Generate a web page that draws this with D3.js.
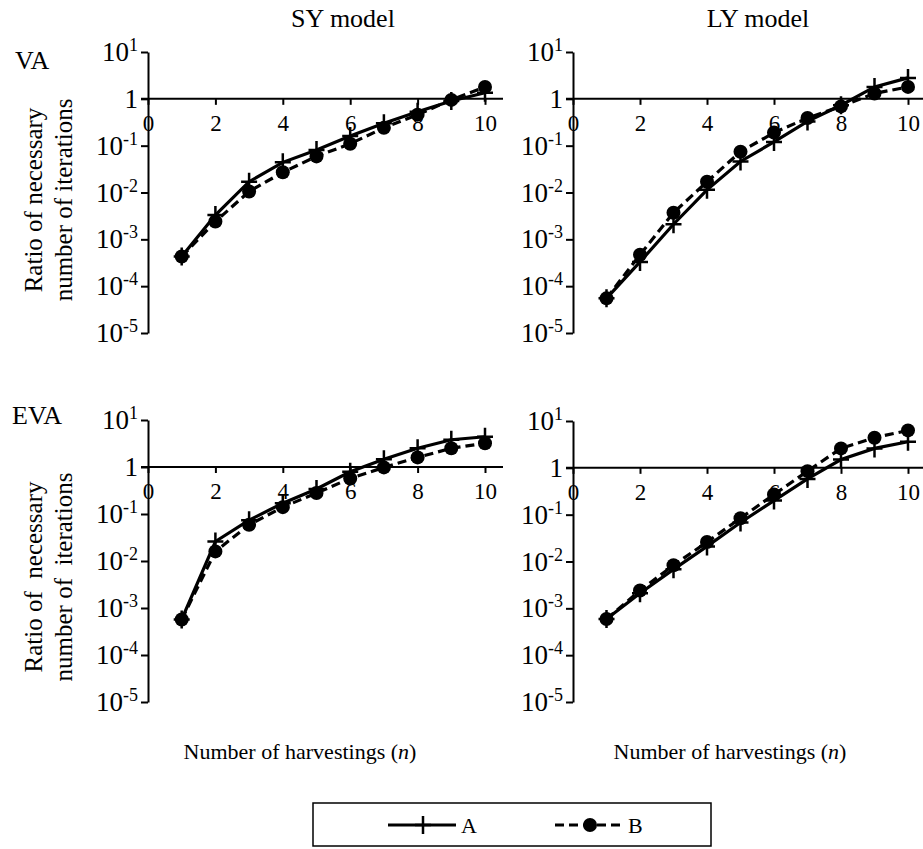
<!DOCTYPE html>
<html>
<head>
<meta charset="utf-8">
<script src="https://cdn.jsdelivr.net/npm/d3@7"></script>
<style>
  body { margin: 0; background: #fff; }
  svg text { font-family: "Liberation Serif", "DejaVu Serif", serif; }
</style>
</head>
<body>
<div class="chart"></div>
<script>
// data
const harvestings = [1, 2, 3, 4, 5, 6, 7, 8, 9, 10];
const xTicks = [0, 2, 4, 6, 8, 10];
const yTickExps = [1, 0, -1, -2, -3, -4, -5];
const models = ['SY model', 'LY model'];
const methods = ['VA', 'EVA'];
const seriesNames = ['A', 'B'];

const syVA_A = [4.3e-4, 3.3e-3, 0.017, 0.044, 0.081, 0.16, 0.30, 0.53, 0.90, 1.35];
const syVA_B = [4.3e-4, 2.4e-3, 0.0105, 0.027, 0.059, 0.11, 0.24, 0.46, 0.95, 1.8];
const lyVA_A = [5.5e-5, 3.3e-4, 2.1e-3, 0.0114, 0.046, 0.12, 0.33, 0.73, 1.8, 2.8];
const lyVA_B = [5.5e-5, 4.7e-4, 3.7e-3, 0.017, 0.074, 0.19, 0.39, 0.69, 1.3, 1.8];
const syEVA_A = [5.7e-4, 0.026, 0.074, 0.17, 0.34, 0.79, 1.46, 2.5, 3.8, 4.4];
const syEVA_B = [5.7e-4, 0.016, 0.059, 0.14, 0.28, 0.57, 0.98, 1.6, 2.5, 3.2];
const lyEVA_A = [5.9e-4, 2.1e-3, 6.8e-3, 0.021, 0.068, 0.20, 0.58, 1.5, 2.6, 3.6];
const lyEVA_B = [5.9e-4, 2.4e-3, 8.3e-3, 0.026, 0.084, 0.27, 0.85, 2.6, 4.4, 6.3];

const width = 923;
const height = 849;
const serif = '"Liberation Serif", "DejaVu Serif", serif';

const svg = d3.select('.chart')
  .append('svg')
    .attr('width', width)
    .attr('height', height)
    .attr('font-family', serif);

// panel layout: plot origin and extents
const panels = [
  { a: syVA_A,  b: syVA_B,  left: 148, right: 485, lineEnd: 503, top: 52,  bottom: 333 },
  { a: lyVA_A,  b: lyVA_B,  left: 573, right: 908, lineEnd: 923, top: 52,  bottom: 333 },
  { a: syEVA_A, b: syEVA_B, left: 148, right: 485, lineEnd: 503, top: 420, bottom: 702 },
  { a: lyEVA_A, b: lyEVA_B, left: 573, right: 908, lineEnd: 923, top: 421, bottom: 702 }
];

const plus = 'M-8,0H8M0,-9V9';

function drawPanel(p) {
  const x = d3.scaleLinear().domain([0, 10]).range([p.left, p.right]);
  const y = d3.scaleLog().domain([1e-5, 1e1]).range([p.bottom, p.top]);
  const g = svg.append('g');

  // y axis
  const yAxis = d3.axisLeft(y)
    .tickValues(yTickExps.map(e => Math.pow(10, e)))
    .tickSize(7)
    .tickSizeOuter(0)
    .tickFormat('');
  const ya = g.append('g')
    .attr('transform', `translate(${p.left},0)`)
    .call(yAxis);
  ya.selectAll('path, line').attr('stroke', '#000').attr('stroke-width', 2);

  // y tick labels with superscripts
  const labels = g.selectAll('.ylab')
    .data(yTickExps)
    .enter()
    .append('text')
      .attr('class', 'ylab')
      .attr('x', p.left - 10)
      .attr('y', d => y(Math.pow(10, d)) + 9)
      .attr('text-anchor', 'end')
      .attr('font-family', serif)
      .attr('font-size', 27);
  labels.filter(d => d === 0).text('1');
  labels.filter(d => d !== 0).each(function(d) {
    const t = d3.select(this);
    t.append('tspan').text('10');
    t.append('tspan')
      .attr('font-size', 18)
      .attr('dy', -10)
      .text(d);
  });

  // x axis through 1
  const xAxis = d3.axisBottom(x)
    .tickValues(xTicks)
    .tickSize(6)
    .tickSizeOuter(0)
    .tickPadding(10);
  const xa = g.append('g')
    .attr('transform', `translate(0,${y(1)})`)
    .call(xAxis);
  xa.attr('font-family', serif);
  xa.select('.domain').remove();
  xa.selectAll('line').attr('stroke', '#000').attr('stroke-width', 2);
  xa.selectAll('text')
    .attr('font-size', 23)
    .attr('fill', '#000');
  g.append('line')
    .attr('x1', p.left - 7)
    .attr('x2', p.lineEnd)
    .attr('y1', y(1))
    .attr('y2', y(1))
    .attr('stroke', '#000')
    .attr('stroke-width', 2);

  const line = d3.line()
    .x((d, i) => x(harvestings[i]))
    .y(d => y(d));

  // series B dashed with circles
  g.append('path')
    .attr('d', line(p.b))
    .attr('fill', 'none')
    .attr('stroke', '#000')
    .attr('stroke-width', 3.2)
    .attr('stroke-dasharray', '9,5');
  g.selectAll('.dot')
    .data(p.b)
    .enter()
    .append('circle')
      .attr('cx', (d, i) => x(harvestings[i]))
      .attr('cy', d => y(d))
      .attr('r', 7)
      .attr('fill', '#000');

  // series A solid with plus markers
  g.append('path')
    .attr('d', line(p.a))
    .attr('fill', 'none')
    .attr('stroke', '#000')
    .attr('stroke-width', 3.2);
  g.selectAll('.plus')
    .data(p.a)
    .enter()
    .append('path')
      .attr('transform', (d, i) => `translate(${x(harvestings[i])},${y(d)})`)
      .attr('d', plus)
      .attr('stroke', '#000')
      .attr('stroke-width', 2.5);
}

panels.forEach(drawPanel);

// titles and labels
svg.selectAll('.title')
  .data(models)
  .enter()
  .append('text')
    .attr('x', (d, i) => [343, 758][i])
    .attr('y', 27)
    .attr('text-anchor', 'middle')
    .attr('font-size', 26)
    .text(d => d);

svg.selectAll('.method')
  .data(methods)
  .enter()
  .append('text')
    .attr('x', (d, i) => [15, 12][i])
    .attr('y', (d, i) => [69, 424][i])
    .attr('font-size', 26)
    .text(d => d);

const yLabelLines = [
  ['Ratio of necessary', 'number of iterations'],
  ['Ratio of  necessary', 'number of  iterations']
];
yLabelLines.forEach((lines, k) => {
  const cy = [200, 577][k];
  lines.forEach((txt, j) => {
    svg.append('text')
      .attr('transform', `translate(${[42, 72][j]},${cy}) rotate(-90)`)
      .attr('text-anchor', 'middle')
      .attr('font-size', 25)
      .style('white-space', 'pre')
      .text(txt);
  });
});

[300, 730].forEach(cx => {
  const t = svg.append('text')
    .attr('x', cx)
    .attr('y', 759)
    .attr('text-anchor', 'middle')
    .attr('font-size', 22);
  t.append('tspan').text('Number of harvestings (');
  t.append('tspan').attr('font-style', 'italic').text('n');
  t.append('tspan').text(')');
});

// legend
const legend = svg.append('g');
legend.append('rect')
  .attr('x', 313)
  .attr('y', 803)
  .attr('width', 398)
  .attr('height', 43)
  .attr('fill', 'none')
  .attr('stroke', '#000')
  .attr('stroke-width', 1.5);

const legendX = [388, 555];
seriesNames.forEach((name, i) => {
  const lx = legendX[i];
  legend.append('line')
    .attr('x1', lx).attr('x2', lx + 68)
    .attr('y1', 825).attr('y2', 825)
    .attr('stroke', '#000')
    .attr('stroke-width', 3)
    .attr('stroke-dasharray', i === 1 ? '9,5' : null);
  if (i === 0) {
    legend.append('path')
      .attr('transform', `translate(${lx + 35},825)`)
      .attr('d', plus)
      .attr('stroke', '#000')
      .attr('stroke-width', 2.5);
  } else {
    legend.append('circle')
      .attr('cx', lx + 35).attr('cy', 825).attr('r', 7)
      .attr('fill', '#000');
  }
  legend.append('text')
    .attr('x', lx + 73)
    .attr('y', 833)
    .attr('font-size', 22)
    .text(name);
});
</script>
</body>
</html>
